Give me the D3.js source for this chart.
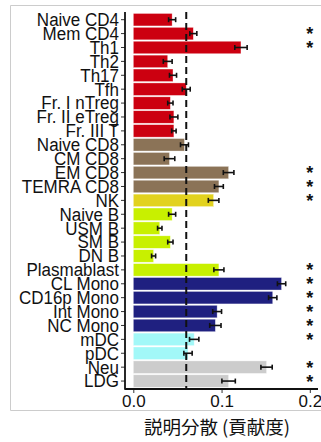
<!DOCTYPE html>
<html>
<head>
<meta charset="utf-8">
<script src="https://cdn.jsdelivr.net/npm/d3@7"></script>
<style>
  html, body { margin: 0; padding: 0; background: #fff; }
  svg { display: block; }
</style>
</head>
<body>
<svg id="chart" width="321" height="442"></svg>
<script>
// Cell types, top to bottom
const cellTypes = [
  "Naive CD4", "Mem CD4", "Th1", "Th2", "Th17", "Tfh",
  "Fr. I nTreg", "Fr. II eTreg", "Fr. III T",
  "Naive CD8", "CM CD8", "EM CD8", "TEMRA CD8", "NK",
  "Naive B", "USM B", "SM B", "DN B", "Plasmablast",
  "CL Mono", "CD16p Mono", "Int Mono", "NC Mono",
  "mDC", "pDC", "Neu", "LDG"
];
// Explained variance (contribution) per cell type
const explained = [
  0.044, 0.068, 0.122, 0.039, 0.045, 0.060,
  0.042, 0.046, 0.046,
  0.058, 0.041, 0.108, 0.097, 0.091,
  0.044, 0.030, 0.042, 0.023, 0.097,
  0.168, 0.158, 0.095, 0.093,
  0.069, 0.062, 0.151, 0.108
];
// Error half-widths
const errHalf = [
  0.004, 0.004, 0.007, 0.005, 0.004, 0.0045,
  0.003, 0.0045, 0.0025,
  0.0045, 0.006, 0.006, 0.005, 0.006,
  0.004, 0.0025, 0.003, 0.0023, 0.0057,
  0.0047, 0.0047, 0.005, 0.0064,
  0.0053, 0.0047, 0.0064, 0.0076
];
// Lineage group for each cell type
const groups = [
  "CD4", "CD4", "CD4", "CD4", "CD4", "CD4", "CD4", "CD4", "CD4",
  "CD8", "CD8", "CD8", "CD8", "NK",
  "B", "B", "B", "B", "B",
  "Mono", "Mono", "Mono", "Mono",
  "DC", "DC", "Gran", "Gran"
];
// Significance marks
const significant = [
  false, true, true, false, false, false, false, false, false,
  false, false, true, true, true,
  false, false, false, false, true,
  true, true, true, true,
  true, false, true, true
];
const groupNames = ["CD4", "CD8", "NK", "B", "Mono", "DC", "Gran"];
const groupColors = ["#cc0010", "#8b7357", "#e2d21e", "#c8f000", "#1f2080", "#a2f8f8", "#cccccc"];
const xTicks = [0.0, 0.1, 0.2];
const threshold = 0.06;
const xTitle = "説明分散 (貢献度)";

const rows = cellTypes.map((c, i) => ({
  name: c, value: explained[i], err: errHalf[i], group: groups[i], sig: significant[i]
}));

const svg = d3.select("#chart");

// outer panel frame
svg.append("path")
  .attr("d", "M330,5.5 H10.5 V410.5 H330")
  .attr("fill", "none")
  .attr("stroke", "#cccccc")
  .attr("stroke-width", 1);

const x = d3.scaleLinear().domain([0, 0.2]).range([133.3, 309.8]);
const y = d3.scaleBand().domain(cellTypes).range([12.05, 388.7]).padding(0.1);
const color = d3.scaleOrdinal().domain(groupNames).range(groupColors);

const axisX0 = 125;
const axisY = 389;

// bars
svg.append("g").selectAll("rect")
  .data(rows)
  .join("rect")
  .attr("x", x(0))
  .attr("y", d => y(d.name))
  .attr("width", d => x(d.value) - x(0))
  .attr("height", y.bandwidth())
  .attr("fill", d => color(d.group))
  .attr("stroke", "#ffffff")
  .attr("stroke-opacity", 0.6)
  .attr("stroke-width", 0.6);

// reference threshold
svg.append("line")
  .attr("x1", x(threshold)).attr("x2", x(threshold))
  .attr("y1", 12).attr("y2", axisY)
  .attr("stroke", "#111")
  .attr("stroke-width", 2)
  .attr("stroke-dasharray", "7,4");

// error bars
const eb = svg.append("g").attr("stroke", "#111").attr("stroke-width", 1.6);
rows.forEach(d => {
  const cy = y(d.name) + y.bandwidth() / 2;
  const a = x(d.value - d.err), b = x(d.value + d.err);
  eb.append("line").attr("x1", a).attr("x2", b).attr("y1", cy).attr("y2", cy);
  eb.append("line").attr("x1", a).attr("x2", a).attr("y1", cy - 2.5).attr("y2", cy + 2.5);
  eb.append("line").attr("x1", b).attr("x2", b).attr("y1", cy - 2.5).attr("y2", cy + 2.5);
});

// significance asterisks
svg.append("g").selectAll("text")
  .data(rows.filter(d => d.sig))
  .join("text")
  .attr("x", x(0.2))
  .attr("y", d => y(d.name) + y.bandwidth() / 2 + 6.5)
  .attr("text-anchor", "middle")
  .attr("font-family", "Liberation Sans, Arial, sans-serif")
  .attr("font-size", 18)
  .attr("font-weight", "bold")
  .attr("fill", "#111")
  .text("*");

// y axis
const yAxis = svg.append("g")
  .attr("transform", `translate(${axisX0},0)`)
  .call(d3.axisLeft(y).tickSize(4).tickPadding(2));
yAxis.select(".domain").remove();
yAxis.append("line").attr("x1", 0).attr("x2", 0).attr("y1", 12).attr("y2", axisY + 0.8)
  .attr("stroke", "#111").attr("stroke-width", 1.8);
yAxis.selectAll(".tick line").attr("stroke", "#333").attr("stroke-width", 1);
yAxis.selectAll(".tick text")
  .attr("font-family", "Liberation Sans, Arial, sans-serif")
  .attr("font-size", 17)
  .attr("fill", "#111")
  .attr("dy", "0.33em")
  .attr("transform", "scale(1,1.13)");

// x axis
const xAxis = svg.append("g")
  .attr("transform", `translate(0,${axisY})`)
  .call(d3.axisBottom(x).tickValues(xTicks).tickFormat(d3.format(".1f")).tickSize(4).tickPadding(2));
xAxis.select(".domain").remove();
xAxis.append("line").attr("x1", axisX0).attr("x2", 318).attr("y1", 0).attr("y2", 0)
  .attr("stroke", "#111").attr("stroke-width", 1.8);
xAxis.selectAll(".tick line").attr("stroke", "#333").attr("stroke-width", 1);
xAxis.selectAll(".tick text")
  .attr("font-family", "Liberation Sans, Arial, sans-serif")
  .attr("font-size", 17)
  .attr("fill", "#111");

// x axis title
svg.append("text")
  .attr("x", 217)
  .attr("y", 434)
  .attr("text-anchor", "middle")
  .attr("font-family", "Noto Sans CJK JP, sans-serif")
  .attr("font-size", 18.5)
  .attr("fill", "#111")
  .text(xTitle);
</script>
</body>
</html>
